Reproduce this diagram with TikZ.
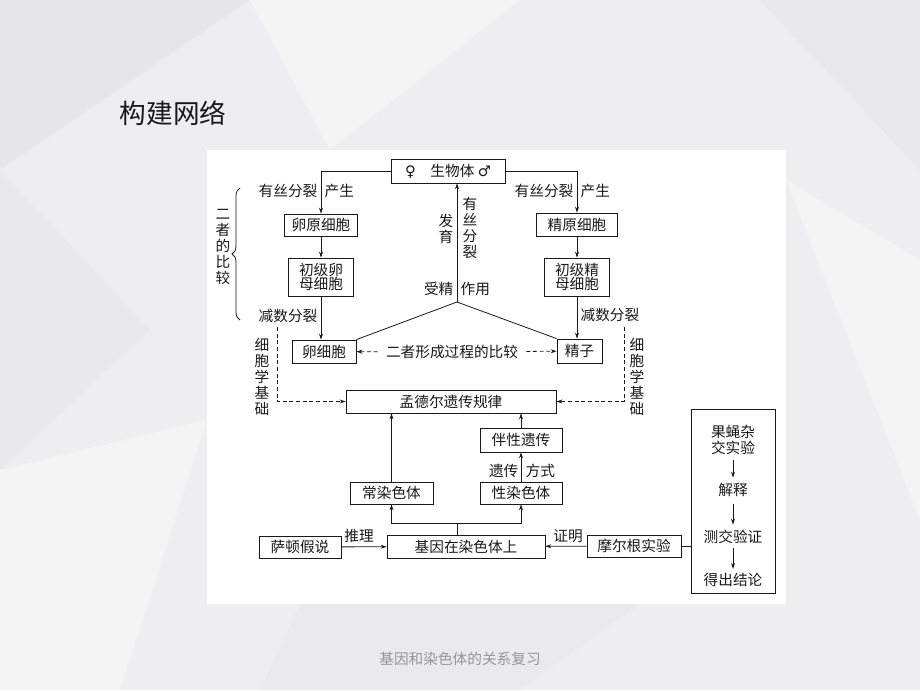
\documentclass[tikz,border=0pt]{standalone}
\usepackage{fontspec}
\setmainfont{Noto Sans CJK SC}
\newfontfamily\symb{DejaVu Sans}
\usetikzlibrary{arrows.meta}
\usetikzlibrary{decorations.pathreplacing}

\definecolor{bgbase}{RGB}{238,238,240}
\definecolor{bgdark}{RGB}{230,230,233}
\definecolor{bglight}{RGB}{244,244,245}
\definecolor{inkgray}{RGB}{25,25,25}
\definecolor{footgray}{RGB}{150,150,150}

\begin{document}
\begin{tikzpicture}[x=0.75pt, y=-0.75pt,
		box/.style={draw=inkgray, line width=0.6pt, inner sep=0pt, align=center, text=inkgray, font=\fontsize{11}{10.5}\selectfont},
		lbl/.style={inner sep=1pt, text=inkgray, font=\fontsize{11}{12}\selectfont},
		vlbl/.style={inner sep=0pt, align=center, text=inkgray, font=\fontsize{11}{12}\selectfont},
		link/.style={draw=inkgray, line width=0.6pt},
		arr/.style={link, -{Stealth[length=4.5pt,width=3pt]}},
		darr/.style={arr, dash pattern=on 3pt off 2pt}]
		\useasboundingbox (0,0) rectangle (920,690);

		%background facets
		\fill[bgbase] (0,0) rectangle (920,690);
		\fill[bgdark] (0,0) -- (250,0) -- (0,170) -- cycle;
		\fill[bglight] (250,0) -- (520,0) -- (330,150) -- cycle;
		\fill[bgdark!60!bgbase] (0,170) -- (150,330) -- (0,470) -- cycle;
		\fill[bglight] (0,470) -- (207,420) -- (120,690) -- (0,690) -- cycle;
		\fill[bgdark!70!bgbase] (760,0) -- (920,0) -- (920,170) -- cycle;
		\fill[bglight] (786,180) -- (920,260) -- (920,520) -- cycle;
		\fill[bgdark!50!bgbase] (300,604) -- (640,604) -- (520,690) -- (260,690) -- cycle;

		%title and footer
		\node[font=\fontsize{20}{20}\selectfont, text=inkgray] (title) at (173,113) {构建网络};
		\node[font=\fontsize{11}{11}\selectfont, text=footgray] (footer) at (460,659) {基因和染色体的关系复习};

		%white panel
		\fill[white] (207,150) rectangle (786,604);

		%boxes, top -> bottom, left column -> right column
		\node[box, minimum width=85.5pt, minimum height=18pt] (bio) at (448,171) {{\symb ♀}\quad 生物体\ {\symb ♂}};
		\node[box, minimum width=54.75pt, minimum height=16.5pt] (oogonium) at (321,225) {卵原细胞};
		\node[box, minimum width=48.75pt, minimum height=28.5pt] (oocyte) at (321,277) {初级卵\\母细胞};
		\node[box, minimum width=48pt, minimum height=17.25pt] (egg) at (324,351.5) {卵细胞};
		\node[box, minimum width=60.75pt, minimum height=17.25pt] (spermgonium) at (577,224.5) {精原细胞};
		\node[box, minimum width=48.75pt, minimum height=28.5pt] (spermcyte) at (577,277) {初级精\\母细胞};
		\node[box, minimum width=33.75pt, minimum height=18pt] (sperm) at (579.5,351) {精子};
		\node[box, minimum width=157.5pt, minimum height=17.25pt] (mendel) at (451,401.5) {孟德尔遗传规律};
		\node[box, minimum width=61.5pt, minimum height=18pt] (sexlinked) at (521,440) {伴性遗传};
		\node[box, minimum width=62.25pt, minimum height=16.5pt] (autosome) at (391.5,493) {常染色体};
		\node[box, minimum width=61.5pt, minimum height=16.5pt] (sexchrom) at (521,493) {性染色体};
		\node[box, minimum width=118.5pt, minimum height=17.25pt] (gene) at (466,546.5) {基因在染色体上};
		\node[box, minimum width=61.5pt, minimum height=16.5pt] (sutton) at (300,547) {萨顿假说};
		\node[box, minimum width=70.5pt, minimum height=16.5pt] (morgan) at (634,546) {摩尔根实验};
		\node[box, minimum width=63pt, minimum height=138pt] (fly) at (733,501) {};

		%fruit fly steps
		\node[lbl, align=center] (cross) at (733,440) {果蝇杂\\交实验};
		\node[lbl] (explain) at (733,490) {解释};
		\node[lbl] (testcross) at (733,537) {测交验证};
		\node[lbl] (result) at (733,580) {得出结论};

		%gamete formation
		\draw[arr] (bio.west) -| (oogonium.north);
		\draw[arr] (bio.east) -| (spermgonium.north);
		\draw[arr] (oogonium) -- (oocyte);
		\draw[arr] (spermgonium) -- (spermcyte);
		\draw[arr] (oocyte.south) -- (oocyte.south |- egg.north);
		\draw[arr] (spermcyte.south) -- (spermcyte.south |- sperm.north);
		\coordinate (fert) at (457,302);
		\draw[link] (egg.north east) -- (fert) -- (sperm.north west);
		\draw[arr] (fert) -- (fert |- bio.south);

		\node[lbl, anchor=east] (mitoL) at (319,191) {有丝分裂};
		\node[lbl, anchor=west] (prodL) at (323,191) {产生};
		\node[lbl, anchor=east] (mitoR) at (575,191) {有丝分裂};
		\node[lbl, anchor=west] (prodR) at (579,191) {产生};
		\node[lbl, anchor=east] (meioL) at (319,316) {减数分裂};
		\node[lbl, anchor=west] (meioR) at (579,315) {减数分裂};
		\node[lbl, anchor=east] (fertA) at (455,289) {受精};
		\node[lbl, anchor=west] (fertB) at (459,289) {作用};
		\node[vlbl] (devel) at (446,229) {发\\育};
		\node[vlbl] (mitoC) at (470,228) {有\\丝\\分\\裂};

		%comparison of the two
		\node[vlbl] (both) at (223,247) {二\\者\\的\\比\\较};
		\draw[link, decorate, decoration={brace, amplitude=6pt}] (240,320) -- (240,188);
		\node[lbl, inner xsep=6pt] (cmp) at (452,352) {二者形成过程的比较};
		\draw[darr] (cmp) -- (egg);
		\draw[darr] (cmp) -- (sperm);

		%cytological basis
		\coordinate (cytL) at (277,327);
		\coordinate (cytR) at (624,327);
		\draw[darr] (cytL) |- (mendel.west);
		\draw[darr] (cytR) |- (mendel.east);
		\node[vlbl] (basisL) at (262,377) {细\\胞\\学\\基\\础};
		\node[vlbl] (basisR) at (637,377) {细\\胞\\学\\基\\础};

		%chromosomes
		\coordinate (fork) at (457,523);
		\draw[link] (fork |- gene.north) -- (fork);
		\draw[arr] (fork) -| (autosome);
		\draw[arr] (fork) -| (sexchrom);
		\draw[arr] (autosome) -- (autosome |- mendel.south);
		\draw[arr] (sexchrom) -- (sexlinked);
		\draw[arr] (sexlinked) -- (sexlinked |- mendel.south);
		\node[lbl, anchor=east] (inhA) at (520,471) {遗传};
		\node[lbl, anchor=west] (inhB) at (524,471) {方式};

		%hypothesis and proof
		\draw[arr] (sutton) -- (gene);
		\draw[arr] (morgan) -- (gene);
		\node[lbl] (infer) at (359,536) {推理};
		\node[lbl] (prove) at (568,536) {证明};
		\draw[link] (morgan.east) -- (morgan.east -| fly.west);
		\draw[arr, shorten <=3pt, shorten >=3pt] (cross) -- (explain);
		\draw[arr, shorten <=4pt, shorten >=3pt] (explain) -- (testcross);
		\draw[arr, shorten <=2pt, shorten >=2pt] (testcross) -- (result);
	\end{tikzpicture}
\end{document}
